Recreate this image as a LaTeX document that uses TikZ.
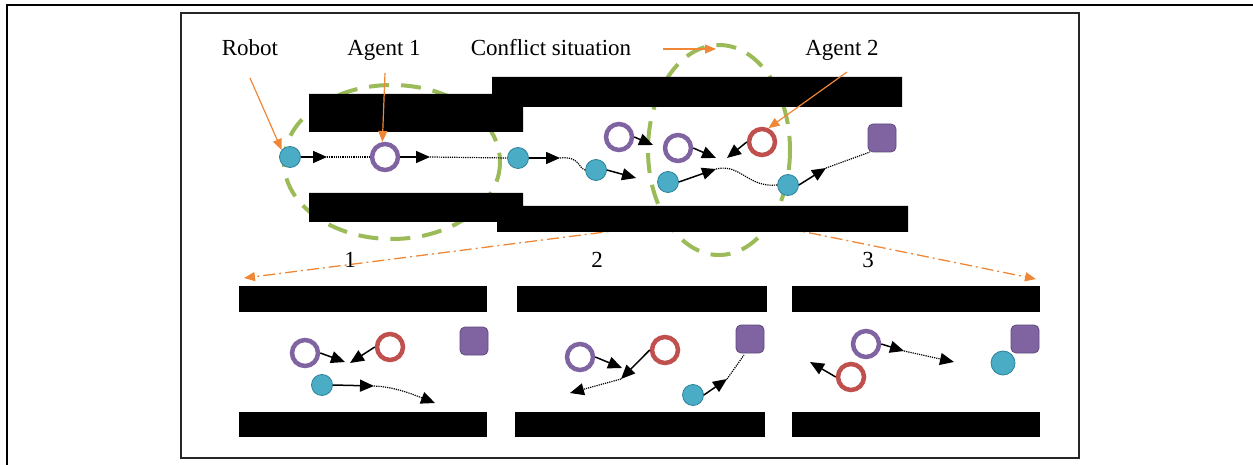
\documentclass[tikz,border=0pt]{standalone}
\usepackage{fontspec}
\setmainfont{Liberation Serif}
\usetikzlibrary{arrows.meta}
\definecolor{greenc}{RGB}{155,187,89}
\definecolor{orangec}{RGB}{240,135,55}
\definecolor{robotc}{RGB}{75,172,198}
\definecolor{robotd}{RGB}{45,130,155}
\definecolor{purp}{RGB}{128,100,162}
\definecolor{purpd}{RGB}{96,74,123}
\definecolor{redc}{RGB}{192,80,77}
\begin{document}
\begin{tikzpicture}[x=1pt,y=-1pt,
  lbl/.style={font=\fontsize{23}{27}\selectfont, inner sep=0pt},
  robot/.style={circle, fill=robotc, draw=robotd, line width=0.8pt, minimum size=21pt, inner sep=0pt},
  agentA/.style={circle, draw=purp, fill=white, line width=4.5pt, minimum size=26pt, inner sep=0pt},
  agentB/.style={circle, draw=redc, fill=white, line width=4.5pt, minimum size=26pt, inner sep=0pt},
  goal/.style={rectangle, rounded corners=5pt, fill=purp, draw=purpd, line width=0.8pt, minimum size=28pt, inner sep=0pt},
  wall/.style={fill=black},
  arr/.style={line width=1.5pt, -{Triangle[length=14pt,width=12pt]}},
  dotl/.style={densely dotted, line width=1.2pt},
  dotarr/.style={densely dotted, line width=1.2pt, -{Triangle[length=14pt,width=12pt]}},
  oarr/.style={draw=orangec, line width=1.2pt, -{Triangle[length=11pt,width=9pt]}},
  odash/.style={draw=orangec, line width=1.3pt, dash pattern=on 12pt off 4pt on 2pt off 4pt, -{Triangle[length=11pt,width=9pt]}},
  conflict/.style={draw=greenc, line width=4pt, dash pattern=on 20pt off 12pt}
]
\useasboundingbox (0,0) rectangle (1253,465);

% frames
\draw[line width=2pt] (7,465) -- (7,5) -- (1253,5);
\draw[line width=1.5pt, draw=black!85] (181,13) rectangle (1079,458);

% conflict circles and projection lines (under walls)
\draw[conflict] (392,162) ellipse [x radius=108, y radius=77];
\draw[conflict] (719,150) ellipse [x radius=71, y radius=105];
\coordinate (pl0) at (668,224);
\coordinate (pl1) at (244,278);
\coordinate (pr0) at (766,224);
\coordinate (pr1) at (1036,279);
\draw[odash] (pl0) -- (pl1);
\draw[odash] (pr0) -- (pr1);

% top corridor walls
\fill[wall] (309,94) -- (492,94) -- (492,77) -- (902,77) -- (902,107) -- (523,107) -- (523,132) -- (309,132) -- cycle;
\fill[wall] (309,193) -- (523,193) -- (523,206) -- (908,206) -- (908,232) -- (497,232) -- (497,222) -- (309,222) -- cycle;

% bottom panel walls
\fill[wall] (239,286) rectangle (487,312);
\fill[wall] (239,412) rectangle (487,437);
\fill[wall] (517,286) rectangle (767,312);
\fill[wall] (515,412) rectangle (765,437);
\fill[wall] (792,286) rectangle (1040,312);
\fill[wall] (792,412) rectangle (1040,437);

% labels
\node[lbl, anchor=base] (trobot) at (250,56) {Robot};
\node[lbl, anchor=base] (tag1) at (384,56) {Agent 1};
\node[lbl, anchor=base] (tconf) at (551,56) {Conflict situation};
\node[lbl, anchor=base] (tag2) at (842,56) {Agent 2};
\node[lbl, anchor=base] (n1) at (350,268) {1};
\node[lbl, anchor=base] (n2) at (597,268) {2};
\node[lbl, anchor=base] (n3) at (868,268) {3};

% top scene objects
\node[robot] (r1) at (290,157) {};
\node[agentA] (a1) at (385,157) {};
\node[robot] (r2) at (518,158) {};
\node[robot] (r3) at (596,170) {};
\node[agentA] (a1b) at (619,137) {};
\node[agentA] (a1c) at (678,148) {};
\node[agentB] (ag2) at (762,142) {};
\node[robot] (r4) at (668,182) {};
\node[robot] (r5) at (788,185) {};
\node[goal] (g0) at (882,138) {};

% orange pointer arrows
\coordinate (sr) at (250,78);
\coordinate (sa1) at (385,73);
\coordinate (sa2) at (847,72);
\coordinate (sc0) at (663,49);
\coordinate (sc1) at (716,49);
\draw[oarr] (sr) -- (r1.140);
\draw[oarr] (sa1) -- (a1.100);
\draw[oarr] (sa2) -- (ag2.65);
\draw[oarr] (sc0) -- (sc1);

% top scene motion
\coordinate (t1) at (327,157);
\coordinate (t2) at (430,157);
\coordinate (t3) at (560,158);
\coordinate (t4) at (636,178);
\coordinate (t5) at (653,145);
\coordinate (t6) at (716,158);
\coordinate (t7) at (727,158);
\coordinate (t8) at (716,169);
\coordinate (t9) at (826,168);
\coordinate (t10) at (870,152);
\draw[arr] (r1.east) -- (t1);
\draw[dotl] (t1) -- (a1.west);
\draw[arr] (a1.east) -- (t2);
\draw[dotl] (t2) -- (r2.west);
\draw[arr] (r2.east) -- (t3);
\draw[dotl] (t3) .. controls (580,156) and (578,168) .. (r3.west);
\draw[arr] (r3.east) -- (t4);
\draw[arr] (a1b.east) -- (t5);
\draw[arr] (a1c.east) -- (t6);
\draw[arr] (ag2.west) -- (t7);
\draw[arr] (r4.east) -- (t8);
\draw[dotl] (t8) .. controls (740,163) and (748,188) .. (r5.west);
\draw[arr] (r5.east) -- (t9);
\draw[dotl] (t9) -- (t10);

% panel 1
\node[agentA] (p1a) at (305,353) {};
\node[agentB] (p1b) at (390,347) {};
\node[robot] (p1r) at (322,385) {};
\node[goal] (p1g) at (474,341) {};
\coordinate (q1) at (345,362);
\coordinate (q2) at (350,363);
\coordinate (q3) at (374,386);
\coordinate (q4) at (435,403);
\draw[arr] (p1a.east) -- (q1);
\draw[arr] (p1b.west) -- (q2);
\draw[arr] (p1r.east) -- (q3);
\draw[dotarr] (q3) .. controls (395,387) and (412,394) .. (q4);

% panel 2
\node[agentA] (p2a) at (580,357) {};
\node[agentB] (p2b) at (665,350) {};
\node[robot] (p2r) at (693,395) {};
\node[goal] (p2g) at (750,339) {};
\coordinate (u1) at (622,368);
\coordinate (u2) at (621,379);
\coordinate (u3) at (570,393);
\coordinate (u4) at (727,379);
\coordinate (u5) at (744,355);
\draw[arr] (p2a.east) -- (u1);
\draw[arr] (p2b.west) -- (u2);
\draw[dotarr] (u2) -- (u3);
\draw[arr] (p2r.east) -- (u4);
\draw[dotl] (u4) -- (u5);

% panel 3
\node[agentA] (p3a) at (866,344) {};
\node[agentB] (p3b) at (851,377) {};
\node[goal] (p3g) at (1025,339) {};
\node[robot, minimum size=24pt] (p3r) at (1003,363) {};
\coordinate (v1) at (904,351);
\coordinate (v2) at (954,362);
\coordinate (v3) at (810,362);
\draw[arr] (p3a.east) -- (v1);
\draw[dotarr] (v1) -- (v2);
\draw[arr] (p3b.west) -- (v3);
\end{tikzpicture}
\end{document}
